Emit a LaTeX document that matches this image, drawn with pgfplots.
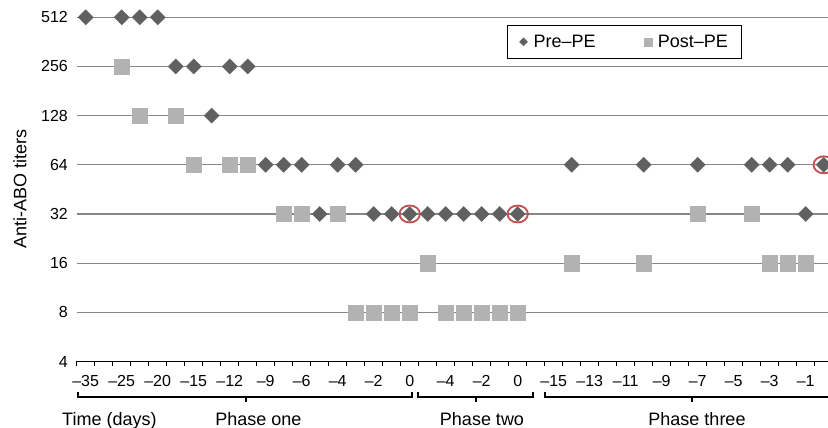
\documentclass[border=0pt]{standalone}
\usepackage{fontspec}
\setmainfont{Liberation Sans}
\usepackage{pgfplots}
\pgfplotsset{compat=1.18}
\usepackage{pgfplotstable}
\definecolor{pregray}{HTML}{606060}
\definecolor{postgray}{HTML}{B2B2B2}
\definecolor{gridgray}{HTML}{868686}
\definecolor{circred}{HTML}{C0504D}

% x = day position (18 px per day slot), titer
\pgfplotstableread{
i titer
0 512
2 512
3 512
4 512
5 256
6 256
7 128
8 256
9 256
10 64
11 64
12 64
13 32
14 64
15 64
16 32
17 32
18 32
19 32
20 32
21 32
22 32
23 32
24 32
27 64
31 64
34 64
37 64
38 64
39 64
40 32
41 64
}\pretable

\pgfplotstableread{
i titer
2 256
3 128
5 128
6 64
8 64
9 64
11 32
12 32
14 32
15 8
16 8
17 8
18 8
19 16
20 8
21 8
22 8
23 8
24 8
27 16
31 16
34 32
37 32
38 16
39 16
40 16
}\posttable

\pgfplotstableread{
i titer
18 32
24 32
41 64
}\circtable

\begin{document}
\begin{tikzpicture}
\useasboundingbox (0,0) rectangle (828bp,428bp);
\clip (0,0) rectangle (828bp,428bp);
\begin{axis}[
  at={(76.7bp,66.5bp)}, anchor=south west,
  scale only axis, width=756bp, height=344.2bp,
  xmin=-0.5, xmax=41.5, ymin=4, ymax=512,
  ymode=log, log basis y=2,
  clip=false,
  axis x line*=bottom, axis y line*=left,
  y axis line style={draw=none},
  x axis line style={black, line width=1.5bp},
  ytick={4,8,16,32,64,128,256,512},
  yticklabels={4,8,16,32,64,128,256,512},
  ytick style={draw=none},
  ymajorgrids=true,
  grid style={gridgray, line width=1.3bp},
  xtick={0,2,...,40},
  xticklabels={–35,–25,–20,–15,–12,–9,–6,–4,–2,0,–4,–2,0,–15,–13,–11,–9,–7,–5,–3,–1},
  minor xtick={-0.5,0.5,...,41.5},
  tick align=outside,
  major tick length=0bp,
  minor tick length=5bp,
  xtick style={black, line width=1.3bp},
  xticklabel style={anchor=north, inner sep=0pt, yshift=-13.5bp},
  yticklabel style={anchor=east, inner sep=0pt, xshift=-8.7bp},
  every tick label/.append style={font=\fontsize{16bp}{19bp}\selectfont},
  ylabel={Anti-ABO titers},
  ylabel style={at={(axis description cs:-0.075,0.5)}, anchor=center, font=\fontsize{18bp}{21bp}\selectfont},
  legend columns=2,
  legend cell align=left,
  legend image code/.code={\draw[#1, mark repeat=1] plot coordinates {(0bp,0bp)};},
  legend style={at={(axis description cs:0.5692,0.9776)}, anchor=north west,
    draw=black, line width=0.8bp, font=\fontsize{18bp}{21bp}\selectfont,
    inner xsep=12bp, inner ysep=7.5bp,
    /tikz/every odd column/.append style={column sep=4bp},
    /tikz/every even column/.append style={column sep=46bp}},
]
\addplot[only marks, mark=square*, mark size=5.4bp,
  mark options={rotate=45, fill=pregray, draw=pregray, line width=0.2bp},
  legend image post style={mark size=2.9bp}]
  table[x=i, y=titer] {\pretable};
\addlegendentry{Pre–PE}
\addplot[only marks, mark=square*, mark size=7.6bp,
  mark options={fill=postgray, draw=postgray, line width=0.2bp},
  legend image post style={mark size=4.1bp}]
  table[x=i, y=titer] {\posttable};
\addlegendentry{Post–PE}
\addplot[only marks, mark=o, mark size=8.5bp, forget plot,
  mark options={xscale=1.2, draw=circred, line width=1.8bp}]
  table[x=i, y=titer] {\circtable};
\end{axis}
% phase brackets
\begin{scope}[line width=1.3bp, black]
\draw (78bp,36bp) -- (78bp,31bp) -- (412bp,31bp) -- (412bp,36bp);
\draw (246bp,31bp) -- (246bp,26bp);
\draw (418bp,36bp) -- (418bp,31bp) -- (533bp,31bp) -- (533bp,36bp);
\draw (476bp,31bp) -- (476bp,26bp);
\draw (545bp,36bp) -- (545bp,31bp) -- (845bp,31bp);
\draw (692bp,31bp) -- (692bp,26bp);
\end{scope}
\begin{scope}[font=\fontsize{18bp}{21bp}\selectfont]
\node[anchor=base west, inner sep=0pt] at (62bp,3bp) {Time (days)};
\node[anchor=base, inner sep=0pt] at (258.5bp,3bp) {Phase one};
\node[anchor=base, inner sep=0pt] at (482bp,3bp) {Phase two};
\node[anchor=base, inner sep=0pt] at (697bp,3bp) {Phase three};
\end{scope}
\end{tikzpicture}
\end{document}
